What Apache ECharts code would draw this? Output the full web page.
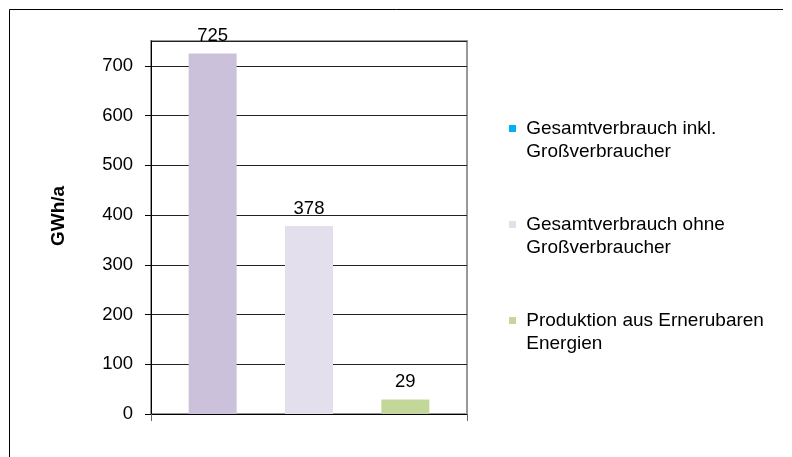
<!DOCTYPE html>
<html>
<head>
<meta charset="utf-8">
<script src="https://cdn.jsdelivr.net/npm/echarts@6/dist/echarts.min.js"></script>
<style>
  html, body { margin: 0; padding: 0; background: #fff; }
  #main { width: 792px; height: 457px; }
</style>
</head>
<body>
<div id="main"></div>
<script>
// Werte aus dem Diagramm
var categories = ['Gesamtverbrauch inkl. Großverbraucher', 'Gesamtverbrauch ohne Großverbraucher', 'Produktion aus Ernerubaren Energien'];
var legendLines = [
  ['Gesamtverbrauch inkl.', 'Großverbraucher'],
  ['Gesamtverbrauch ohne', 'Großverbraucher'],
  ['Produktion aus Ernerubaren', 'Energien']
];
var values = [725, 378, 29];
var barColors = ['#cbc1db', '#e4dfec', '#c4d79b'];
var legendColors = ['#00b0f0', '#e4dfec', '#c4d79b'];

var font = 'Liberation Sans, Arial, sans-serif';

// Balken an Position 0,1,2 einer Werteachse (Excel-Lücken links/rechts)
var series = [];
for (var i = 0; i < values.length; i++) {
  series.push({
    name: categories[i],
    type: 'bar',
    data: [[i, values[i]]],
    barWidth: 48,
    barGap: '-100%',
    itemStyle: { color: barColors[i] },
    label: {
      show: true,
      position: 'top',
      distance: 8,
      color: '#000',
      fontSize: 18.5,
      fontFamily: font
    }
  });
}

var myChart = echarts.init(document.getElementById('main'));
var option = {
  animation: false,
  textStyle: { fontFamily: font },
  graphic: [{
    type: 'polyline',
    shape: { points: [[9.5, 470], [9.5, 9.5], [783, 9.5]] },
    style: { stroke: '#000', lineWidth: 1, fill: null }
  }, {
    type: 'text',
    x: 59,
    y: 216,
    rotation: Math.PI / 2,
    style: {
      text: 'GWh/a',
      font: 'bold 19px Liberation Sans, Arial, sans-serif',
      fill: '#000',
      align: 'center',
      verticalAlign: 'middle',
      textAlign: 'center',
      textVerticalAlign: 'middle'
    }
  }],
  grid: {
    left: 151, right: 325, top: 41, bottom: 43,
    show: true,
    borderColor: '#999',
    borderWidth: 2
  },
  legend: {
    orient: 'vertical',
    left: 509,
    top: 94,
    padding: 0,
    itemGap: 27,
    icon: 'rect',
    itemWidth: 7,
    itemHeight: 7,
    selectedMode: false,
    // leere erste Zeile, damit das Symbol auf Höhe der ersten Textzeile steht
    formatter: function (name) {
      var l = legendLines[categories.indexOf(name)];
      return ' \n ' + l[0] + '\n ' + l[1];
    },
    textStyle: {
      fontSize: 19,
      lineHeight: 23,
      color: '#000',
      fontFamily: font
    },
    data: categories.map(function (c, i) {
      return { name: c, itemStyle: { color: legendColors[i] } };
    })
  },
  xAxis: {
    type: 'value',
    min: -0.64,
    max: 2.64,
    interval: 3.28,
    axisLine: { show: true, onZero: false, lineStyle: { color: '#000', width: 1 } },
    axisTick: { show: true, length: 7, lineStyle: { color: '#666' } },
    axisLabel: { show: false },
    splitLine: { show: false }
  },
  yAxis: {
    type: 'value',
    min: 0,
    max: 750,
    interval: 100,
    axisLine: { show: true, onZero: false, lineStyle: { color: '#000', width: 1 } },
    axisTick: { show: true, length: 6, lineStyle: { color: '#000' } },
    axisLabel: {
      margin: 18,
      fontSize: 18.5,
      color: '#000',
      fontFamily: font,
      showMaxLabel: false
    },
    splitLine: { show: true, lineStyle: { color: '#222', width: 1 } }
  },
  series: series
};
myChart.setOption(option);
</script>
</body>
</html>
